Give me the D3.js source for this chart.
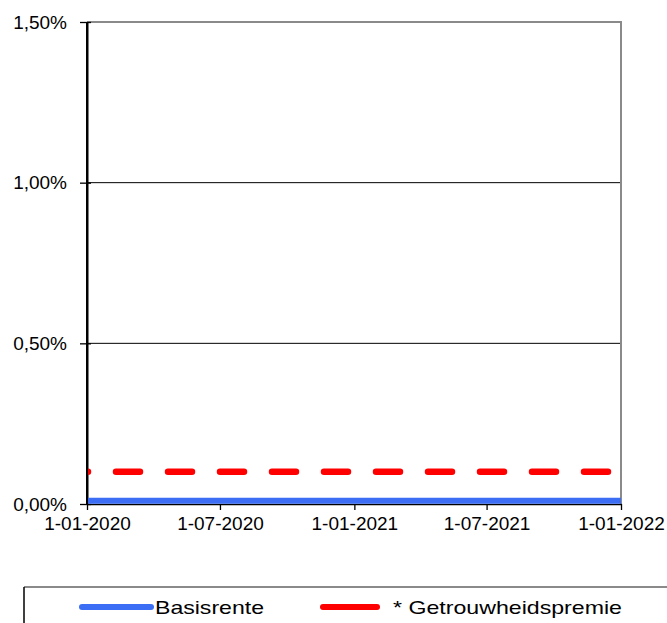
<!DOCTYPE html>
<html><head><meta charset="utf-8">
<script src="https://cdn.jsdelivr.net/npm/d3@7"></script>
<style>body{margin:0;background:#fff}svg{display:block;font-family:"Liberation Sans",Arial,sans-serif}</style>
</head><body>
<svg id="c" width="667" height="623"></svg>
<script>
const dates = ["2020-01-01", "2022-01-01"];
const basisrente = [0.01, 0.01];
const getrouwheidspremie = [0.10, 0.10];
const xTickLabels = ["1-01-2020", "1-07-2020", "1-01-2021", "1-07-2021", "1-01-2022"];
const xTickDates = ["2020-01-01", "2020-07-01", "2021-01-01", "2021-07-01", "2022-01-01"];
const yTicks = [0, 0.5, 1.0, 1.5];
const seriesNames = ["Basisrente", "* Getrouwheidspremie"];

const parse = d3.timeParse("%Y-%m-%d");
const svg = d3.select("#c");
const L = 87, R = 621, T = 22, B = 504;
const x = d3.scaleTime().domain([parse(dates[0]), parse(dates[dates.length-1])]).range([L, R]);
const y = d3.scaleLinear().domain([0, 1.5]).range([B, T]);
const fmt = v => v.toFixed(2).replace(".", ",") + "%";

// gridlines
svg.append("g").selectAll("line").data(yTicks.filter(v => v > 0 && v < 1.5)).join("line")
  .attr("x1", L).attr("x2", R).attr("y1", d => y(d)).attr("y2", d => y(d))
  .attr("stroke", "#000").attr("stroke-width", 1);

// border top/right
svg.append("line").attr("x1", L).attr("x2", R+1).attr("y1", T).attr("y2", T).attr("stroke", "#8a8a8a").attr("stroke-width", 2);
svg.append("line").attr("x1", R).attr("x2", R).attr("y1", T).attr("y2", B).attr("stroke", "#8a8a8a").attr("stroke-width", 2);

// y axis
const yAxis = svg.append("g").attr("transform", `translate(${L},0)`)
  .call(d3.axisLeft(y).tickValues(yTicks).tickFormat(fmt).tickSizeOuter(0).tickSizeInner(7).tickPadding(13));
yAxis.select(".domain").attr("stroke", "#000").attr("stroke-width", 2);
yAxis.selectAll(".tick line").attr("stroke", "#000").attr("stroke-width", 1.3).attr("x2", -7).attr("x1", 4);
yAxis.selectAll("text").attr("font-size", 19).attr("fill", "#000").attr("font-family", "Liberation Sans, Arial, sans-serif");

// x axis
const xAxis = svg.append("g").attr("transform", `translate(0,${B})`)
  .call(d3.axisBottom(x).tickValues(xTickDates.map(parse)).tickFormat((d, i) => xTickLabels[i]).tickSizeOuter(0).tickSizeInner(6).tickPadding(7));
xAxis.select(".domain").attr("stroke", "#000").attr("stroke-width", 1.5);
xAxis.selectAll(".tick line").attr("stroke", "#000").attr("stroke-width", 1.3);
xAxis.selectAll("text").attr("font-size", 19).attr("fill", "#000").attr("font-family", "Liberation Sans, Arial, sans-serif");

svg.append("clipPath").attr("id", "clip").append("rect").attr("x", L).attr("y", T).attr("width", R - L + 2).attr("height", B - T + 4);

const line = d3.line().x(d => x(d[0])).y(d => y(d[1]));
const bData = dates.map((d, i) => [parse(d), basisrente[i]]);
const gData = dates.map((d, i) => [parse(d), getrouwheidspremie[i]]);

svg.append("path").datum(gData).attr("d", line).attr("clip-path", "url(#clip)")
  .attr("fill", "none").attr("stroke", "#ff0000").attr("stroke-width", 6.5)
  .attr("stroke-linecap", "round").attr("stroke-dasharray", "24 28").attr("stroke-dashoffset", 23);
svg.append("path").datum(bData).attr("d", line)
  .attr("fill", "none").attr("stroke", "#3b6ef5").attr("stroke-width", 6);

// redraw left axis line on top
svg.append("line").attr("x1", L).attr("x2", L).attr("y1", T).attr("y2", B + 1).attr("stroke", "#000").attr("stroke-width", 2);

// legend
const lg = svg.append("g");
lg.append("line").attr("x1", 24).attr("x2", 667).attr("y1", 587).attr("y2", 587).attr("stroke", "#8a8a8a").attr("stroke-width", 2);
lg.append("line").attr("x1", 24).attr("x2", 24).attr("y1", 587).attr("y2", 623).attr("stroke", "#000").attr("stroke-width", 1.5);
const items = [
  {name: seriesNames[0], color: "#3b6ef5", x1: 82, x2: 151, tx: 155, tw: 109},
  {name: seriesNames[1], color: "#ff0000", x1: 323, x2: 377, tx: 393, tw: 229}
];
items.forEach(it => {
  lg.append("path").attr("d", `M${it.x1},607H${it.x2}`)
    .attr("fill", "none").attr("stroke", it.color).attr("stroke-width", 6)
    .attr("stroke-linecap", "round").attr("stroke-dasharray", null);
  lg.append("text").attr("x", it.tx).attr("y", 614).attr("font-size", 19).attr("fill", "#000")
    .attr("textLength", it.tw).attr("lengthAdjust", "spacingAndGlyphs").text(it.name);
});
</script>
</body></html>
